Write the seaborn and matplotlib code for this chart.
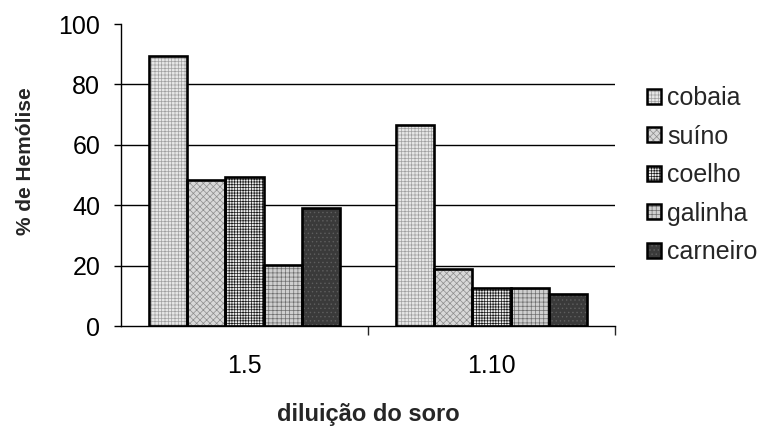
import pandas as pd
import seaborn as sns
import matplotlib.pyplot as plt
from matplotlib.patches import Rectangle, Patch

diluicoes = ["1.5", "1.10"]
especies = ["cobaia", "suíno", "coelho", "galinha", "carneiro"]
cobaia = [89.3, 66.4]
suino = [48.2, 18.9]
coelho = [49.5, 12.7]
galinha = [20.2, 12.5]
carneiro = [39.2, 10.7]

faces = ["#e6e6e6", "#d8d8d8", "#ececec", "#cfcfcf", "#3a3a3a"]
hatch_cols = ["#a0a0a0", "#8c8c8c", "#1a1a1a", "#6e6e6e", "#5e5e5e"]
hatches = ["+++++", "xxxxx", "++++++", "++++", "...."]

rows = []
for esp, vals in zip(especies, [cobaia, suino, coelho, galinha, carneiro]):
    for d, v in zip(diluicoes, vals):
        rows.append({"diluicao": d, "especie": esp, "valor": v})
df = pd.DataFrame(rows)

sns.set_style("white")
plt.rcParams["font.family"] = ["Liberation Sans", "DejaVu Sans"]
plt.rcParams["hatch.linewidth"] = 0.5

fig = plt.figure(figsize=(7.63, 4.28), dpi=100)
ax = fig.add_axes([0.1586, 0.2383, 0.6475, 0.7056])

sns.barplot(data=df, x="diluicao", y="valor", hue="especie", order=diluicoes,
            hue_order=especies, width=0.775, legend=False, ax=ax)

# pattern fill, then a black outline copied from each seaborn bar
for i, cont in enumerate(ax.containers):
    for p in cont:
        p.set_facecolor(faces[i])
        p.set_hatch(hatches[i])
        p.set_edgecolor(hatch_cols[i])
        p.set_linewidth(0)
        ax.add_patch(Rectangle(p.get_xy(), p.get_width(), p.get_height(),
                               fill=False, edgecolor="black", lw=1.9, zorder=3))

ax.set_ylim(0, 100)
ax.set_xlim(-0.5, 1.5)
ax.set_yticks([0, 20, 40, 60, 80, 100])
for y in [20, 40, 60, 80]:
    ax.axhline(y, color="black", lw=1, zorder=0)

ax.tick_params(axis="y", labelsize=18, direction="out", length=5, width=1,
               left=True, pad=10, colors="black")
ax.tick_params(axis="x", labelsize=18, length=0, pad=20, colors="black")
ax.set_xticks([0.5, 1.5], minor=True)
ax.tick_params(axis="x", which="minor", direction="out", length=6.5, width=1, bottom=True)

sns.despine(ax=ax)
for s in ["left", "bottom"]:
    ax.spines[s].set_color("black")
    ax.spines[s].set_linewidth(1)

ax.set_ylabel("% de Hemólise", fontsize=15, fontweight="bold")
ax.set_xlabel("diluição do soro", fontsize=17, fontweight="bold")
ax.yaxis.set_label_coords(-0.174, 0.545)
ax.xaxis.set_label_coords(0.5, -0.255)

handles = [(Patch(facecolor=faces[i], hatch=hatches[i], edgecolor=hatch_cols[i], lw=0),
            Patch(fill=False, edgecolor="black", lw=1.8))
           for i in range(len(especies))]
ax.legend(handles, especies, loc="center left", bbox_to_anchor=(1.065, 0.5),
          borderaxespad=0, borderpad=0, frameon=False, fontsize=18,
          handlelength=0.55, handleheight=0.55, handletextpad=0.25,
          labelspacing=0.58)

fig.savefig("out.png", dpi=100)
